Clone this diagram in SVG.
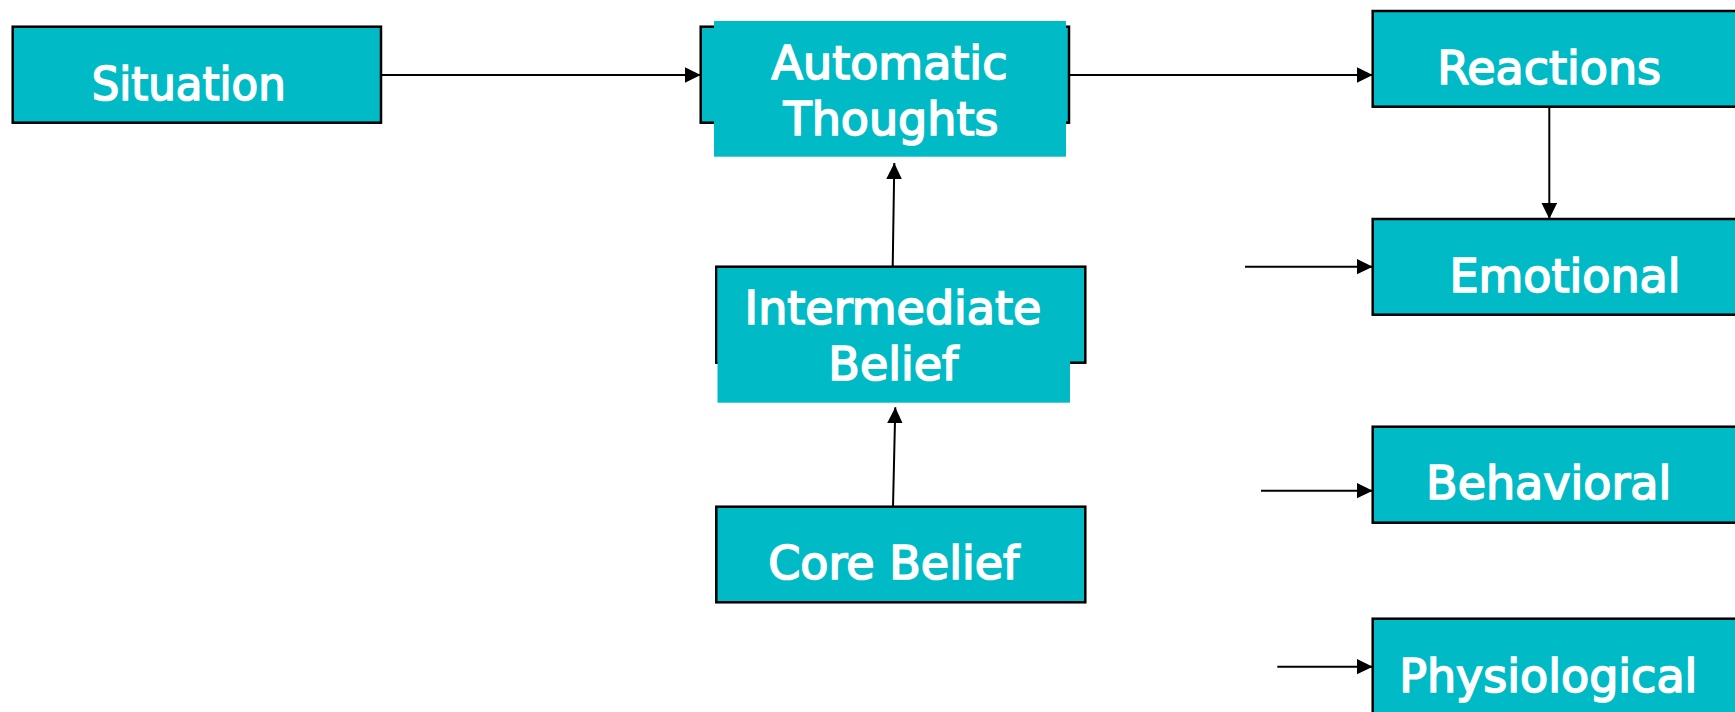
<svg xmlns="http://www.w3.org/2000/svg" width="1735" height="712" viewBox="0 0 1735 712">
<style>
.box{fill:#00BBC6;stroke:#000;stroke-width:2.5}
.cover{fill:#00BBC6;stroke:none}
.lbl{font-family:"DejaVu Sans",Verdana,sans-serif;font-size:46px;fill:#fff;stroke:#fff;stroke-width:1.7;text-anchor:middle}
.conn{stroke:#000;stroke-width:2;fill:none;marker-end:url(#ah)}
</style>
<defs>
<marker id="ah" markerUnits="userSpaceOnUse" markerWidth="16" markerHeight="16" viewBox="0 0 15 14.6" refX="15" refY="7.3" orient="auto">
<path d="M0,0 L15,7.3 L0,14.6 z" fill="#000"/>
</marker>
</defs>
<rect width="1735" height="712" fill="#fff"/>
<g id="connectors">
<line class="conn" x1="381" y1="75" x2="700.7" y2="75"/>
<line class="conn" x1="1069" y1="75" x2="1372.7" y2="75"/>
<line class="conn" x1="1549.3" y1="106.7" x2="1549.3" y2="219"/>
<line class="conn" x1="1245" y1="266.7" x2="1372.7" y2="266.7"/>
<line class="conn" x1="1261" y1="490.7" x2="1372.7" y2="490.7"/>
<line class="conn" x1="1277.3" y1="666.7" x2="1372.7" y2="666.7"/>
<line class="conn" x1="892.7" y1="266.7" x2="894.3" y2="163"/>
<line class="conn" x1="893" y1="506.7" x2="895.3" y2="407.3"/>
</g>
<g id="situation">
<rect class="box" x="12.7" y="26.7" width="368.3" height="96"/>
<text class="lbl" x="188.7" y="100" textLength="194" lengthAdjust="spacingAndGlyphs">Situation</text>
</g>
<g id="automatic-thoughts">
<rect class="box" x="700.7" y="26.7" width="368.3" height="96"/>
<rect class="cover" x="714" y="21" width="352" height="135.7"/>
<text class="lbl" x="889.5" y="79">Automatic</text>
<text class="lbl" x="891" y="135">Thoughts</text>
</g>
<g id="intermediate-belief">
<rect class="box" x="716.3" y="266.7" width="369" height="96"/>
<rect class="cover" x="717.5" y="268" width="352.5" height="134.7"/>
<text class="lbl" x="893" y="324">Intermediate</text>
<text class="lbl" x="893.3" y="380">Belief</text>
</g>
<g id="core-belief">
<rect class="box" x="716.3" y="506.7" width="369" height="95.6"/>
<text class="lbl" x="893.7" y="579.3">Core Belief</text>
</g>
<g id="reactions">
<rect class="box" x="1372.7" y="11" width="380" height="95.7"/>
<text class="lbl" x="1549.2" y="84.3">Reactions</text>
</g>
<g id="emotional">
<rect class="box" x="1372.7" y="219" width="380" height="95.7"/>
<text class="lbl" x="1565" y="292.3">Emotional</text>
</g>
<g id="behavioral">
<rect class="box" x="1372.7" y="426.7" width="380" height="96"/>
<text class="lbl" x="1548.7" y="499.3">Behavioral</text>
</g>
<g id="physiological">
<rect class="box" x="1372.7" y="618.7" width="380" height="110"/>
<text class="lbl" x="1548.3" y="692">Physiological</text>
</g>
</svg>
